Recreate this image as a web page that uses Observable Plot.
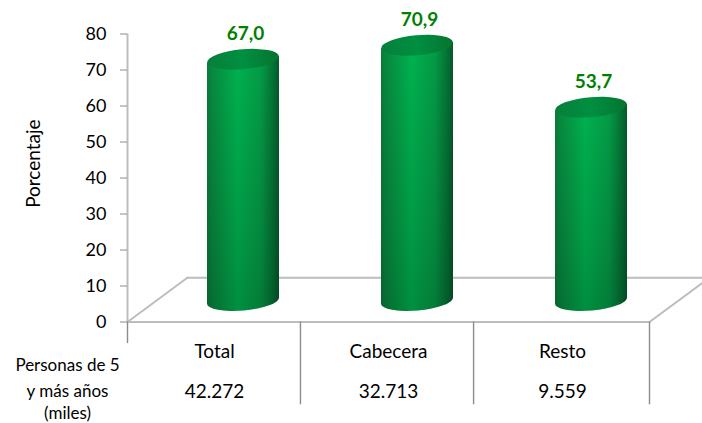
<!DOCTYPE html>
<html><head><meta charset="utf-8">
<style>html,body{margin:0;padding:0;background:#fff;overflow:hidden}svg{display:block}</style>
<script src="https://cdn.jsdelivr.net/npm/d3@7"></script>
<script src="https://cdn.jsdelivr.net/npm/@observablehq/plot@0.6"></script>
</head><body><div id="chart"></div>
<script>
const categories = ["Total", "Cabecera", "Resto"];
const percentages = [67.0, 70.9, 53.7];
const percentLabels = ["67,0", "70,9", "53,7"];
const persons = ["42.272", "32.713", "9.559"];
const rowTitle = ["Personas de 5", "y más años", "(miles)"];
const rowTitleDy = [44, 70, 92];
const yTicks = [0, 10, 20, 30, 40, 50, 60, 70, 80];
const dividers = [0.994, 1.989, 3];

const font = "Lato, 'Open Sans', sans-serif";
const rows = categories.map((c, i) => ({c, i, v: percentages[i], label: percentLabels[i], n: persons[i]}));
const shiftX = 29, baseDy = -21, halfW = 36, ry = 10, tilt = 5;

function defs() {
  const d = d3.create("svg:defs");
  const grad = (id, stops, vertical) => {
    const g = d.append("linearGradient").attr("id", id).attr("x1", 0).attr("y1", 0)
      .attr("x2", vertical ? 0 : 1).attr("y2", vertical ? 1 : 0);
    for (const [o, c, a] of stops) g.append("stop").attr("offset", o).attr("stop-color", c).attr("stop-opacity", a ?? 1);
  };
  grad("cyl", [[0,"#0b7a3a"],[.07,"#07893f"],[.42,"#00b24f"],[.75,"#049a46"],[.93,"#046f33"],[1,"#04592a"]]);
  grad("shade", [[0,"#000",0],[.7,"#000",.13],[1,"#000",.2]], true);
  grad("lid", [[0,"#067f3a"],[.5,"#008f41"],[1,"#05742f"]]);
  return d.node();
}

function cylinders(index, scales, values) {
  const g = d3.create("svg:g");
  const dxT = halfW * Math.sin(tilt * Math.PI / 180);
  for (const i of index) {
    const cx = scales.x(rows[i].i + 0.5) + shiftX;
    const base = scales.y(0) + baseDy;
    const top = scales.y(rows[i].v) + baseDy;
    const arc = `A${halfW} ${ry} ${-tilt}`;
    const d = `M${cx - halfW} ${top + dxT}L${cx - halfW} ${base + dxT}${arc} 0 0 ${cx + halfW} ${base - dxT}L${cx + halfW} ${top - dxT}Z`;
    g.append("path").attr("d", d).attr("fill", "url(#cyl)");
    g.append("path").attr("d", d).attr("fill", "url(#shade)");
    g.append("ellipse").attr("cx", cx).attr("cy", top).attr("rx", halfW).attr("ry", ry)
      .attr("transform", `rotate(${-tilt} ${cx} ${top})`).attr("fill", "url(#lid)");
  }
  return g.node();
}

const floorFront = [{x: 0, y: 0}, {x: 3, y: 0}];
const floorBack = [{x: 0.344, y: 12.3}, {x: 3.344, y: 12.3}];
const floorLeft = [{x: 0, y: 0}, {x: 0.344, y: 12.3}];
const floorRight = [{x: 3, y: 0}, {x: 3.344, y: 12.3}];
const floorLine = {x: "x", y: "y", stroke: "#bdbdbd", strokeWidth: 2};

const plot = Plot.plot({
  width: 702, height: 423,
  marginLeft: 127, marginRight: 53, marginTop: 33.5, marginBottom: 101.5,
  style: {background: "#fff", fontFamily: font, overflow: "hidden"},
  x: {domain: [0, 3], axis: null},
  y: {domain: [0, 80], axis: null},
  marks: [
    defs,
    Plot.line(floorBack, floorLine),
    Plot.line(floorLeft, floorLine),
    Plot.line(floorRight, floorLine),
    Plot.line(floorFront, floorLine),
    Plot.ruleX([0], {y1: 0, y2: 80, stroke: "#bdbdbd", strokeWidth: 2}),
    Plot.ruleX([0], {y1: 0, y2: -6, stroke: "#8c8c8c", strokeWidth: 1.4}),
    Plot.ruleX(dividers, {y1: 0, y2: -23, stroke: "#8c8c8c", strokeWidth: 1.4}),
    Plot.axisY({ticks: yTicks, tickSize: 7, tickPadding: 14, stroke: "#8c8c8c", fontSize: 18, label: null, tickFormat: d => d, fill: "#000"}),
    Plot.rect(rows, {x1: "i", x2: "i", y1: 0, y2: "v", render: cylinders}),
    Plot.text(rows, {x: d => d.i + 0.5, y: "v", text: "label", dx: 31, dy: -47, fill: "#008000", fontWeight: 700, fontSize: 19}),
    Plot.text(rows, {x: d => d.i + 0.5, y: 0, text: "c", dy: 30, fontSize: 19, fill: "#000", letterSpacing: "0.6px"}),
    Plot.text(rows, {x: d => d.i + 0.5, y: 0, text: "n", dy: 70, fontSize: 19, fill: "#000", letterSpacing: "0.5px"}),
    ...rowTitle.map((t, k) => Plot.text([t], {frameAnchor: "left", textAnchor: "middle", y: 0, dx: -60, dy: rowTitleDy[k], text: d => d, fontSize: 17, letterSpacing: "1.3px", fill: "#000"})),
    Plot.text(["Porcentaje"], {frameAnchor: "left", textAnchor: "middle", dx: -94, y: 44, rotate: -90, fontSize: 19, letterSpacing: "1.7px", fill: "#000", text: d => d})
  ]
});
document.getElementById("chart").append(plot);
</script></body></html>
